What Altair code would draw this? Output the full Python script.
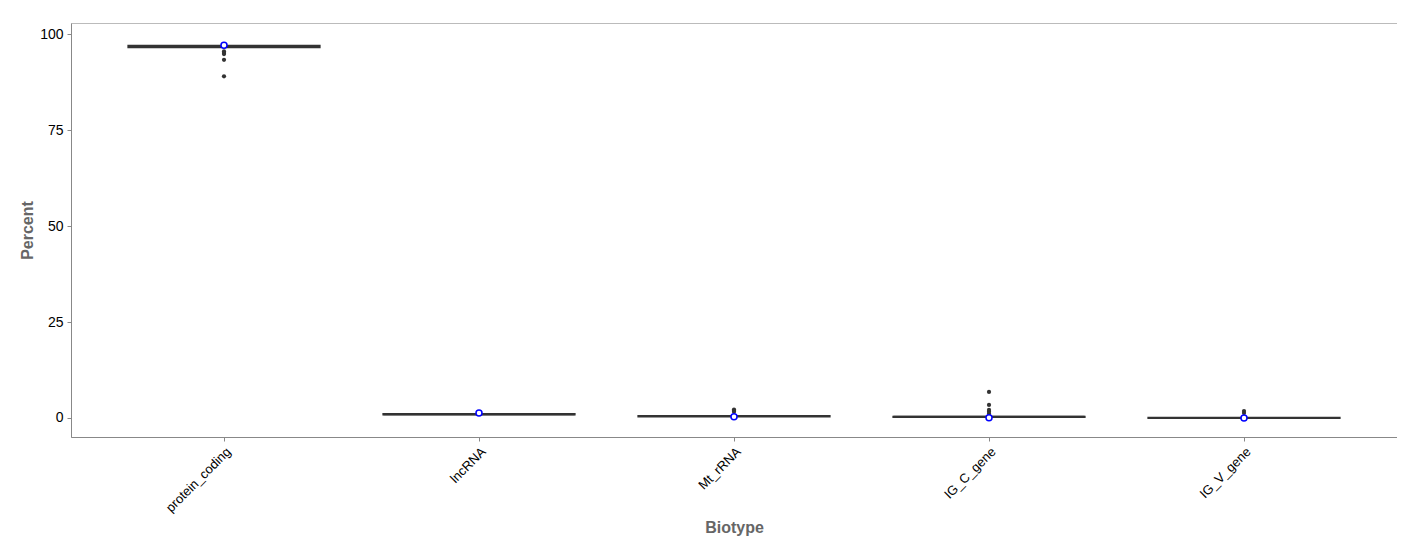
import altair as alt
import pandas as pd

categories = ["protein_coding", "lncRNA", "Mt_rRNA", "IG_C_gene", "IG_V_gene"]
q1 = [96.6, 0.9, 0.4, 0.25, 0.0]
median = [96.9, 1.0, 0.5, 0.3, 0.0]
q3 = [97.0, 1.05, 0.55, 0.35, 0.05]
means = [97.1, 1.3, 0.3, 0.05, 0.0]
outlier_cat = ["protein_coding"] * 5 + ["Mt_rRNA"] * 3 + ["IG_C_gene"] * 5 + ["IG_V_gene"] * 2
outlier_val = [95.5, 95.1, 94.8, 93.3, 89.0,
               2.2, 1.9, 1.6,
               6.8, 3.4, 2.1, 1.6, 1.1,
               1.8, 1.3]

idx = {c: i + 1 for i, c in enumerate(categories)}
box_df = pd.DataFrame({
    "Biotype": categories,
    "i": [idx[c] for c in categories],
    "q1": q1, "q3": q3, "median": median, "mean": means,
})
box_df["left"] = box_df["i"] - 0.375
box_df["right"] = box_df["i"] + 0.375
out_df = pd.DataFrame({"Biotype": outlier_cat,
                       "i": [idx[c] for c in outlier_cat],
                       "Percent": outlier_val})

label_expr = "[" + ",".join(f"'{c}'" for c in categories) + "][datum.value - 1]"

xscale = alt.Scale(domain=[0.4, 5.6], nice=False, zero=False)
yscale = alt.Scale(domain=[-4.95, 102.9], nice=False, zero=False)

xaxis = alt.Axis(title="Biotype", values=[1, 2, 3, 4, 5], labelExpr=label_expr,
                 labelAngle=-45, labelAlign="right", labelBaseline="top",
                 labelFontSize=13, labelColor="#000", grid=False,
                 tickSize=4, tickColor="#888", domainColor="#888",
                 titleFontSize=16, titleFontWeight="bold", titleColor="#666",
                 titlePadding=5, labelPadding=4)
yaxis = alt.Axis(title="Percent", values=[0, 25, 50, 75, 100], grid=False,
                 labelFontSize=14, labelColor="#000", tickSize=4,
                 tickColor="#888", domainColor="#888",
                 titleFontSize=16, titleFontWeight="bold", titleColor="#666",
                 titlePadding=4, labelPadding=4)

boxes = alt.Chart(box_df).mark_rect(fill="white", stroke="#333", strokeWidth=2).encode(
    x=alt.X("left:Q", scale=xscale, axis=xaxis),
    x2="right:Q",
    y=alt.Y("q1:Q", scale=yscale, axis=yaxis),
    y2="q3:Q",
)
med = alt.Chart(box_df).mark_rule(color="#333", strokeWidth=2).encode(
    x=alt.X("left:Q", scale=xscale), x2="right:Q",
    y=alt.Y("median:Q", scale=yscale),
)
outs = alt.Chart(out_df).mark_circle(color="#333", opacity=1, size=18).encode(
    x=alt.X("i:Q", scale=xscale),
    y=alt.Y("Percent:Q", scale=yscale),
)
mean_pts = alt.Chart(box_df).mark_point(shape="circle", fill="white", filled=False,
                                        stroke="blue", strokeWidth=1.5, size=36, opacity=1).encode(
    x=alt.X("i:Q", scale=xscale),
    y=alt.Y("mean:Q", scale=yscale),
)

chart = alt.layer(boxes, med, outs, mean_pts).properties(
    width=1326, height=414,
    autosize=alt.AutoSizeParams(type="none"),
    padding={"left": 63, "top": 15, "right": 0, "bottom": 100},
).configure_view(stroke="#bbb", strokeWidth=1).configure_axis(
    labelFont="Liberation Sans", titleFont="Liberation Sans"
)

chart.save("out.html", embed_options={"renderer": "svg", "actions": False})
